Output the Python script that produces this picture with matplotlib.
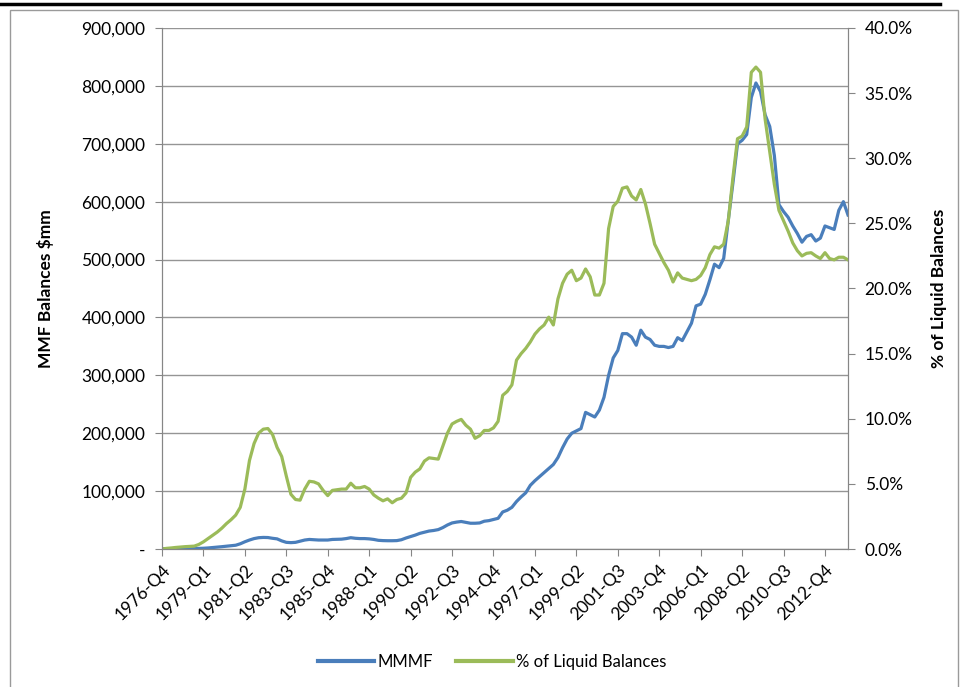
import numpy as np
import matplotlib
matplotlib.use('Agg')
import matplotlib.pyplot as plt
from matplotlib.lines import Line2D
from matplotlib.patches import Rectangle

plt.rcParams['font.family'] = ['Lato', 'DejaVu Sans']

#quarterly categories, 1976-Q4 .. 2014-Q1
start_year, start_q, n_q = 1976, 4, 150
quarters = []
for k in range(n_q):
    q = start_q - 1 + k
    quarters.append('%d-Q%d' % (start_year + q // 4, q % 4 + 1))

mmmf_k = [0.5, 0.5, 0.5, 0.5, 0.5, 0.6, 0.7, 0.8, 1.0, 1.3,
          1.8, 2.5, 3.2, 4.0, 4.8, 5.6, 6.5, 9.0, 12.5, 15.5,
          18.0, 19.5, 20.0, 19.8, 18.5, 17.5, 14.0, 11.5, 11.0, 11.5,
          13.5, 15.5, 16.5, 16.0, 15.5, 15.5, 15.5, 16.5, 16.8, 17.0,
          18.0, 19.5, 18.5, 18.0, 18.0, 17.5, 16.5, 15.0, 14.5, 14.3,
          14.3, 14.5, 16.0, 19.0, 21.5, 24.0, 27.0, 29.0, 31.0, 32.0,
          33.5, 37.0, 41.5, 45.0, 46.5, 47.5, 46.0, 44.5, 44.5, 45.0,
          48.0, 49.0, 51.0, 53.0, 64.0, 67.0, 72.0, 82.0, 90.0, 97.0,
          110.0, 118.0, 125.0, 132.0, 139.0, 146.0, 158.0, 175.0, 190.0, 200.0,
          204.0, 208.0, 236.0, 232.0, 228.0, 240.0, 262.0, 300.0, 330.0, 343.0,
          372.0, 372.0, 366.0, 352.0, 378.0, 366.0, 362.0, 352.0, 350.0, 350.0,
          348.0, 350.0, 365.0, 360.0, 375.0, 390.0, 420.0, 423.0, 440.0, 465.0,
          492.0, 486.0, 502.0, 568.0, 632.0, 700.0, 706.0, 716.0, 780.0, 805.0,
          790.0, 750.0, 730.0, 680.0, 595.0, 583.0, 573.0, 558.0, 545.0, 530.0,
          540.0, 543.0, 532.0, 537.0, 558.0, 555.0, 552.0, 585.0, 600.0, 577.0]

#MMMF as % of liquid balances
pct_liquid = [0.0, 0.05, 0.08, 0.12, 0.15, 0.18, 0.2, 0.22, 0.35, 0.55,
              0.8, 1.05, 1.3, 1.6, 1.95, 2.25, 2.6, 3.2, 4.6, 6.8,
              8.1, 8.9, 9.2, 9.25, 8.8, 7.8, 7.1, 5.6, 4.2, 3.8,
              3.75, 4.6, 5.2, 5.15, 5.0, 4.5, 4.1, 4.5, 4.55, 4.6,
              4.6, 5.05, 4.7, 4.7, 4.8, 4.6, 4.15, 3.9, 3.7, 3.85,
              3.55, 3.8, 3.9, 4.3, 5.5, 5.9, 6.15, 6.75, 7.0, 6.95,
              6.9, 7.9, 8.9, 9.6, 9.8, 9.95, 9.5, 9.2, 8.5, 8.7,
              9.1, 9.1, 9.3, 9.8, 11.8, 12.1, 12.6, 14.5, 15.0, 15.4,
              15.9, 16.5, 16.9, 17.2, 17.8, 17.2, 19.2, 20.4, 21.1, 21.4,
              20.6, 20.8, 21.5, 20.9, 19.5, 19.5, 20.4, 24.6, 26.3, 26.7,
              27.7, 27.8, 27.1, 26.8, 27.6, 26.5, 25.0, 23.4, 22.7, 22.0,
              21.4, 20.5, 21.2, 20.8, 20.7, 20.6, 20.7, 21.0, 21.6, 22.6,
              23.2, 23.1, 23.4, 25.2, 28.5, 31.5, 31.7, 32.4, 36.6, 37.0,
              36.6, 33.0, 30.5, 28.0, 26.0, 25.2, 24.4, 23.5, 22.9, 22.5,
              22.7, 22.75, 22.5, 22.3, 22.75, 22.3, 22.2, 22.4, 22.4, 22.2]

left_ticks = [0, 100000, 200000, 300000, 400000, 500000, 600000, 700000, 800000, 900000]
left_labels = ['-', '100,000', '200,000', '300,000', '400,000', '500,000',
               '600,000', '700,000', '800,000', '900,000']
right_ticks = [0, 5, 10, 15, 20, 25, 30, 35, 40]
right_labels = ['%.1f%%' % v for v in right_ticks]

blue = '#4a7ebb'
green = '#9bbb59'
axis_grey = '#868686'

fig = plt.figure(figsize=(9.65, 6.87), dpi=100)
ax = fig.add_axes([162/965, 1-549/687, (848-162)/965, (549-28)/687])
ax2 = ax.twinx()

x = np.arange(n_q)
ax.plot(x, np.array(mmmf_k)*1000, color=blue, lw=2.3, solid_joinstyle='round')
ax2.plot(x, pct_liquid, color=green, lw=2.3, solid_joinstyle='round')

ax.set_xlim(0, n_q-1)
ax.set_ylim(0, 900000)
ax2.set_ylim(0, 40)

ax.set_yticks(left_ticks)
ax.set_yticklabels(left_labels)
ax2.set_yticks(right_ticks)
ax2.set_yticklabels(right_labels)
ax.set_xticks(x[::9])
ax.set_xticklabels(quarters[::9], rotation=45, ha='right', rotation_mode='anchor')

ax.yaxis.grid(True, color='#959595', lw=1.0)
ax.set_axisbelow(True)

for a in (ax, ax2):
    a.spines['top'].set_visible(False)
    for s in ('left', 'right', 'bottom'):
        a.spines[s].set_color(axis_grey)
    a.tick_params(colors=axis_grey, labelcolor='black', labelsize=12.5,
                  length=5, direction='out')
ax.tick_params(axis='y', pad=7)
ax2.tick_params(axis='y', pad=7)
ax.tick_params(axis='x', pad=4)

ax.set_ylabel('MMF Balances $mm', fontsize=12.5, fontweight='bold')
ax.yaxis.set_label_coords(-108/686, 0.5)
ax2.set_ylabel('% of Liquid Balances', fontsize=12.5, fontweight='bold', rotation=90)
ax2.yaxis.set_label_coords(1 + 83/686, 0.5)

handles = [Line2D([], [], color=blue, lw=3), Line2D([], [], color=green, lw=3)]
fig.legend(handles, ['MMMF', '% of Liquid Balances'], loc='center',
           bbox_to_anchor=(0.51, 0.036), ncol=2, frameon=False,
           fontsize=12, handlelength=3.4, columnspacing=1.4, handletextpad=0.2)

#chart frame and the cut-off caption line above it
fig.patches.append(Rectangle((10/965, -0.01), (958-10)/965, 1-10/687+0.01,
                             transform=fig.transFigure, fill=False,
                             edgecolor='#9a9a9a', lw=1.0))
fig.lines.append(Line2D([0, 940/965], [1-4/687, 1-4/687], transform=fig.transFigure,
                        color='black', lw=2.5))

fig.savefig('out.png', dpi=100)
